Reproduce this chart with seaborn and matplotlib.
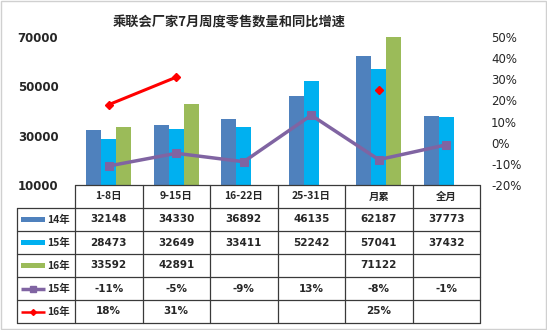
import numpy as np
import pandas as pd
import matplotlib
matplotlib.use("Agg")
import matplotlib.pyplot as plt
import seaborn as sns
from matplotlib.patches import Rectangle

# ---- data ----
categories = ["1-8日", "9-15日", "16-22日", "25-31日", "月累", "全月"]
series_names = ["14年", "15年", "16年"]
sales_14 = [32148, 34330, 36892, 46135, 62187, 37773]
sales_15 = [28473, 32649, 33411, 52242, 57041, 37432]
sales_16 = [33592, 42891, None, None, 71122, None]
growth_15 = [-11, -5, -9, 13, -8, -1]          # %
growth_16 = [18, 31, None, None, 25, None]     # %
left_ticks = [10000, 30000, 50000, 70000]
right_ticks = [-20, -10, 0, 10, 20, 30, 40, 50]
title = "乘联会厂家7月周度零售数量和同比增速"

bar_colors = ["#4F81BD", "#00B0F0", "#9BBB59"]
line15_color = "#8064A2"
line16_color = "#FF0000"

sns.set_theme(style="white")
plt.rcParams["font.family"] = ["Noto Sans CJK SC", "DejaVu Sans"]

W, H = 547, 330
fig = plt.figure(figsize=(W / 100, H / 100), dpi=100)
fig.patch.set_facecolor("white")

# plot area in pixel units
L, R, T, B = 75, 480, 37, 185
ax = fig.add_axes([L / W, 1 - B / H, (R - L) / W, (B - T) / H])
ax.set_facecolor("none")

df = pd.DataFrame({
    "cat": categories * 3,
    "year": [n for n in series_names for _ in categories],
    "val": sales_14 + sales_15 + sales_16,
}).dropna()

sns.barplot(data=df, x="cat", y="val", hue="year", order=categories,
            hue_order=series_names, palette=bar_colors, width=0.667,
            saturation=1, edgecolor="none", legend=False, ax=ax)
ax.set_xlim(-0.5, len(categories) - 0.5)
ax.set_ylim(10000, 70000)
ax.set_yticks(left_ticks)
ax.set_yticklabels([str(v) for v in left_ticks], fontsize=8.5, fontweight="bold",
                   family=["DejaVu Sans"])
ax.set_xticks([])
ax.set_xlabel("")
ax.set_ylabel("")
ax.tick_params(axis="y", length=0, pad=12)
for s in ax.spines.values():
    s.set_visible(False)

# growth rates on the secondary axis
ax2 = ax.twinx()
xpos = np.arange(len(categories))
sns.lineplot(x=xpos, y=growth_15, ax=ax2, color=line15_color, linewidth=2.5,
             marker="s", markersize=6, markeredgecolor=line15_color)
g16 = np.array([np.nan if v is None else v for v in growth_16], dtype=float)
ax2.plot(xpos, g16, color=line16_color, linewidth=2.2, marker="D",
         markersize=4.5, markeredgecolor=line16_color)
ax2.set_ylim(-20, 50)
ax2.set_yticks(right_ticks)
ax2.set_yticklabels([f"{v}%" for v in right_ticks], fontsize=8.5,
                    family=["DejaVu Sans"])
ax2.tick_params(axis="y", length=0, pad=8)
ax2.set_ylabel("")
for s in ax2.spines.values():
    s.set_visible(False)

# ---- title ----
fig.text(229 / W, 1 - 22 / H, title, ha="center", va="center",
         fontsize=9.5, fontweight="bold")

# ---- data table under the plot ----
tab = fig.add_axes([0, 0, 1, 1])
tab.set_xlim(0, W)
tab.set_ylim(H, 0)
tab.axis("off")
tab.patch.set_visible(False)

col_edges = L + (R - L) / len(categories) * np.arange(len(categories) + 1)
row_edges = [185, 208, 231, 254, 277, 300, 323]
key_left = 17
line_kw = dict(color="#3a3a3a", linewidth=0.9)

for x in col_edges:
    tab.plot([x, x], [row_edges[0], row_edges[-1]], **line_kw)
tab.plot([key_left, key_left], [row_edges[1], row_edges[-1]], **line_kw)
tab.plot([L, R], [row_edges[0], row_edges[0]], **line_kw)
for y in row_edges[1:]:
    tab.plot([key_left, R], [y, y], **line_kw)

centers = (col_edges[:-1] + col_edges[1:]) / 2
row_mid = [(row_edges[i] + row_edges[i + 1]) / 2 for i in range(len(row_edges) - 1)]

for c, name in zip(centers, categories):
    tab.text(c, row_mid[0], name, ha="center", va="center", fontsize=7.5,
             fontweight="bold")

rows = [
    ("14年", sales_14, lambda v: f"{v}", "bar", bar_colors[0]),
    ("15年", sales_15, lambda v: f"{v}", "bar", bar_colors[1]),
    ("16年", sales_16, lambda v: f"{v}", "bar", bar_colors[2]),
    ("15年", growth_15, lambda v: f"{v}%", "line15", line15_color),
    ("16年", growth_16, lambda v: f"{v}%", "line16", line16_color),
]
for (label, vals, fmt, kind, col), ym in zip(rows, row_mid[1:]):
    for c, v in zip(centers, vals):
        if v is not None:
            tab.text(c, ym, fmt(v), ha="center", va="center", fontsize=7.5,
                     fontweight="bold", family=["DejaVu Sans"])
    # legend key
    if kind == "bar":
        tab.add_patch(Rectangle((21, ym - 2.5), 24, 5, facecolor=col,
                                edgecolor="none"))
    elif kind == "line15":
        tab.plot([21, 45], [ym, ym], color=col, linewidth=2.5,
                 solid_capstyle="butt")
        tab.plot([33], [ym], marker="s", markersize=5, color=col)
    else:
        tab.plot([21, 45], [ym, ym], color=col, linewidth=1.8,
                 solid_capstyle="butt")
        tab.plot([33], [ym], marker="D", markersize=3, color=col)
    tab.text(47, ym, label, ha="left", va="center", fontsize=7.5,
             fontweight="bold")

# light frame around the chart area
tab.add_patch(Rectangle((0.5, 0.5), W - 1.5, H - 1.5, facecolor="none",
                        edgecolor="#D0D0D0", linewidth=1))

fig.savefig("out.png", dpi=100)
